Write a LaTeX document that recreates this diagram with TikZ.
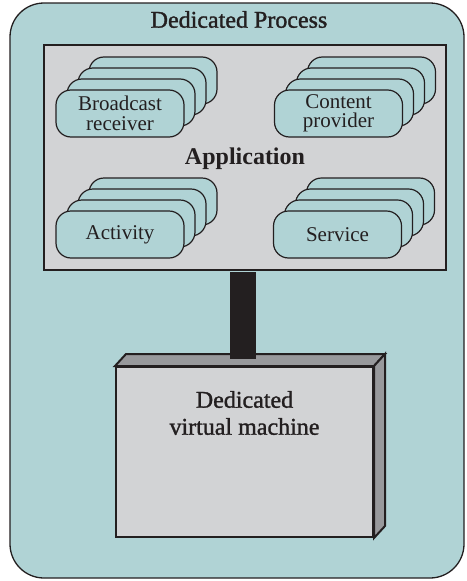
\documentclass[tikz,border=0pt]{standalone}
\usepackage{fontspec}
\setmainfont{Liberation Serif}
\newfontfamily\medserif[FakeBold=1.3]{Liberation Serif}
\definecolor{teal}{HTML}{B0D3D5}
\definecolor{lgray}{HTML}{D2D3D5}
\definecolor{dgray}{HTML}{98999C}
\definecolor{ink}{HTML}{231F20}
\tikzset{
  procbox/.style={draw=ink, fill=teal, line width=1.3pt, rounded corners=34pt,
    minimum width=454pt, minimum height=575pt, inner sep=0pt},
  appbox/.style={draw=ink, fill=lgray, line width=2.6pt,
    minimum width=402pt, minimum height=225pt, inner sep=0pt},
  compbox/.style={draw=ink, fill=teal, line width=1.2pt, rounded corners=15pt,
    minimum width=128pt, minimum height=47pt, inner sep=0pt, align=center,
    text=ink, font=\fontsize{21}{19.5}\selectfont},
  vmface/.style={draw=ink, fill=lgray, line width=2pt,
    minimum width=257pt, minimum height=170pt, inner sep=0pt},
  vmside/.style={draw=ink, fill=dgray, line width=2pt, line join=miter},
  bigtext/.style={text=ink, font=\fontsize{24}{27}\selectfont\medserif, align=center, inner sep=0pt},
  apptext/.style={text=ink, font=\fontsize{24}{27}\selectfont\bfseries, inner sep=0pt},
  bar/.style={draw=ink, line width=26pt},
}
\newcommand{\compstack}[4]{%
  \node[compbox] (#1-3) at (#2+33,#3-33) {};
  \node[compbox] (#1-2) at (#2+22,#3-22) {};
  \node[compbox] (#1-1) at (#2+11,#3-11) {};
  \node[compbox] (#1) at (#2,#3) {#4};
}
\begin{document}
\begin{tikzpicture}[x=1pt,y=-1pt]
\useasboundingbox (0,0) rectangle (466,581);
\node[procbox] (proc) at (237,290.5) {};
\node[bigtext] (title) at (239,19.5) {Dedicated Process};
\node[appbox] (app) at (245,157.5) {};
\node[apptext] (applbl) at (245,159) {Application};
\compstack{bcast}{120}{113.5}{Broadcast\\receiver}
\compstack{content}{338.5}{113.5}{Content\\provider}
\compstack{activity}{120}{234.5}{Activity}
\compstack{service}{337.5}{234.5}{Service}
% virtual machine box
\node[vmface] (vm) at (244.5,452) {};
\draw[vmside] (vm.north west) -- ++(11,-12) -- ([shift={(11,-12)}]vm.north east) -- (vm.north east) -- cycle;
\draw[vmside] (vm.north east) -- ++(11,-12) -- ([shift={(11,-12)}]vm.south east) -- (vm.south east) -- cycle;
\node[bigtext] (vmlbl) at (244.5,413) {Dedicated\\virtual machine};
\coordinate (barx) at (243,0);
\draw[bar, shorten >=7pt, shorten <=1pt] (app.south -| barx) -- (vm.north -| barx);
\end{tikzpicture}
\end{document}
